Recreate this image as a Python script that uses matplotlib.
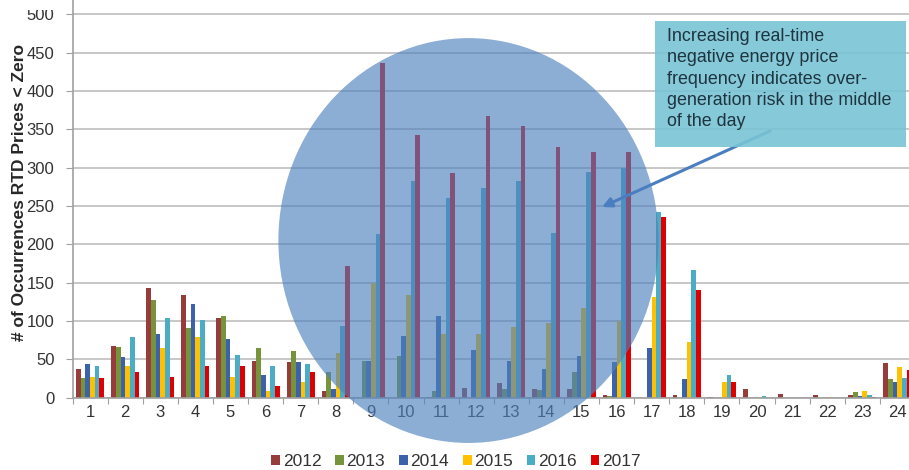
import numpy as np
import matplotlib
matplotlib.use("Agg")
from matplotlib import pyplot as plt
from matplotlib.patches import Ellipse, Rectangle

plt.rcParams['font.family'] = ['Liberation Sans', 'DejaVu Sans']

hours = list(range(1, 25))
years = ['2012', '2013', '2014', '2015', '2016', '2017']
colors = ['#963C3A', '#77933C', '#3B62AA', '#FFC000', '#4BACC6', '#DD0000']

# count of negative real-time prices per hour of the day, one list per year
y2012 = [37, 67, 143, 134, 104, 48, 47, 9, 0, 0, 1, 13, 19, 11, 11, 3, 0, 3, 1, 11, 5, 3, 4, 45]
y2013 = [26, 66, 127, 91, 107, 65, 61, 34, 48, 55, 9, 0, 11, 10, 34, 2, 0, 0, 0, 0, 0, 0, 7, 24]
y2014 = [44, 53, 83, 122, 77, 30, 46, 12, 48, 81, 107, 62, 48, 37, 55, 47, 65, 24, 0, 0, 0, 0, 2, 20]
y2015 = [27, 42, 65, 79, 27, 9, 21, 58, 150, 134, 83, 83, 92, 98, 117, 100, 131, 73, 20, 1, 0, 1, 9, 40]
y2016 = [42, 79, 104, 101, 56, 41, 44, 93, 213, 283, 260, 274, 283, 215, 295, 300, 242, 166, 29, 2, 0, 0, 3, 26]
y2017 = [26, 33, 27, 41, 41, 15, 33, 172, 436, 342, 293, 367, 354, 327, 320, 321, 236, 141, 21, 0, 0, 0, 1, 36]
series = [y2012, y2013, y2014, y2015, y2016, y2017]

note = ("Increasing real-time\nnegative energy price\nfrequency indicates over-\n"
        "generation risk in the middle\nof the day")

fig = plt.figure(figsize=(9.09, 4.70), dpi=100)
ax = fig.add_axes([0.0798, 0.1538, 0.9267, 0.8462])

x = np.arange(1, 25)
w = 0.8 / 6
for i in range(6):
    ax.bar(x + (i - 2.5) * w, series[i], width=w, color=colors[i], label=years[i], zorder=2)

ax.set_xlim(0.5, 24.5)
ax.set_ylim(0, 518.7)
ax.set_yticks(range(0, 501, 50))
ax.yaxis.grid(True, color='#BDBDBD', linewidth=1.2, zorder=1)
ax.set_axisbelow(True)

# ticks sit between the hours, labels under each hour
ax.set_xticks(np.arange(0.5, 25, 1))
ax.set_xticklabels([])
ax.set_xticks(x, minor=True)
ax.set_xticklabels([str(h) for h in hours], minor=True)
ax.tick_params(axis='x', which='major', length=4, color='#A0A0A0')
ax.tick_params(axis='x', which='minor', length=0, pad=5, labelsize=12, labelcolor='#333333')
ax.tick_params(axis='y', length=5, pad=8, color='#A0A0A0', labelsize=12, labelcolor='#333333')

for side in ['top', 'right']:
    ax.spines[side].set_visible(False)
for side in ['left', 'bottom']:
    ax.spines[side].set_color('#A0A0A0')
    ax.spines[side].set_linewidth(1.2)

ax.set_ylabel('# of Occurrences RTD Prices < Zero', fontsize=12.5, fontweight='bold',
              color='#262626')
ax.yaxis.set_label_coords(-0.054, 0.517)

# highlight around the midday hours
circle = Ellipse((11.78, 205), 10.83, 528, facecolor='#4F81BD', edgecolor='none',
                 alpha=0.65, zorder=3, clip_on=False)
ax.add_patch(circle)

# top strip of the slide hides part of the top tick label
fig.patches.append(Rectangle((0, 1 - 10 / 470), 68 / 909, 10 / 470,
                             transform=fig.transFigure, facecolor='white',
                             edgecolor='none', zorder=4))

# note box and arrow in figure pixels
fig.patches.append(Rectangle((655 / 909, 1 - 147 / 470), 251 / 909, 126 / 470,
                             transform=fig.transFigure, facecolor='#79C3D4',
                             edgecolor='none', alpha=0.9, zorder=5))
fig.text(667 / 909, 1 - 28 / 470, note, ha='left', va='top', fontsize=12.9,
         color='#1E3440', linespacing=1.33, zorder=6)
ax.annotate('', xy=(602 / 909, 1 - 207 / 470), xytext=(770 / 909, 1 - 131 / 470),
            xycoords='figure fraction', textcoords='figure fraction',
            arrowprops=dict(arrowstyle='-|>', color='#4A7EC0', lw=2.2,
                            mutation_scale=14, shrinkA=0, shrinkB=0),
            zorder=7, annotation_clip=False)

fig.legend(loc='center', bbox_to_anchor=(456 / 909, 1 - 462 / 470), ncol=6,
           frameon=False, fontsize=12.5, handlelength=0.5, handleheight=0.5,
           handletextpad=0.15, columnspacing=0.8, labelcolor='#333333')

fig.savefig('out.png', dpi=100)
